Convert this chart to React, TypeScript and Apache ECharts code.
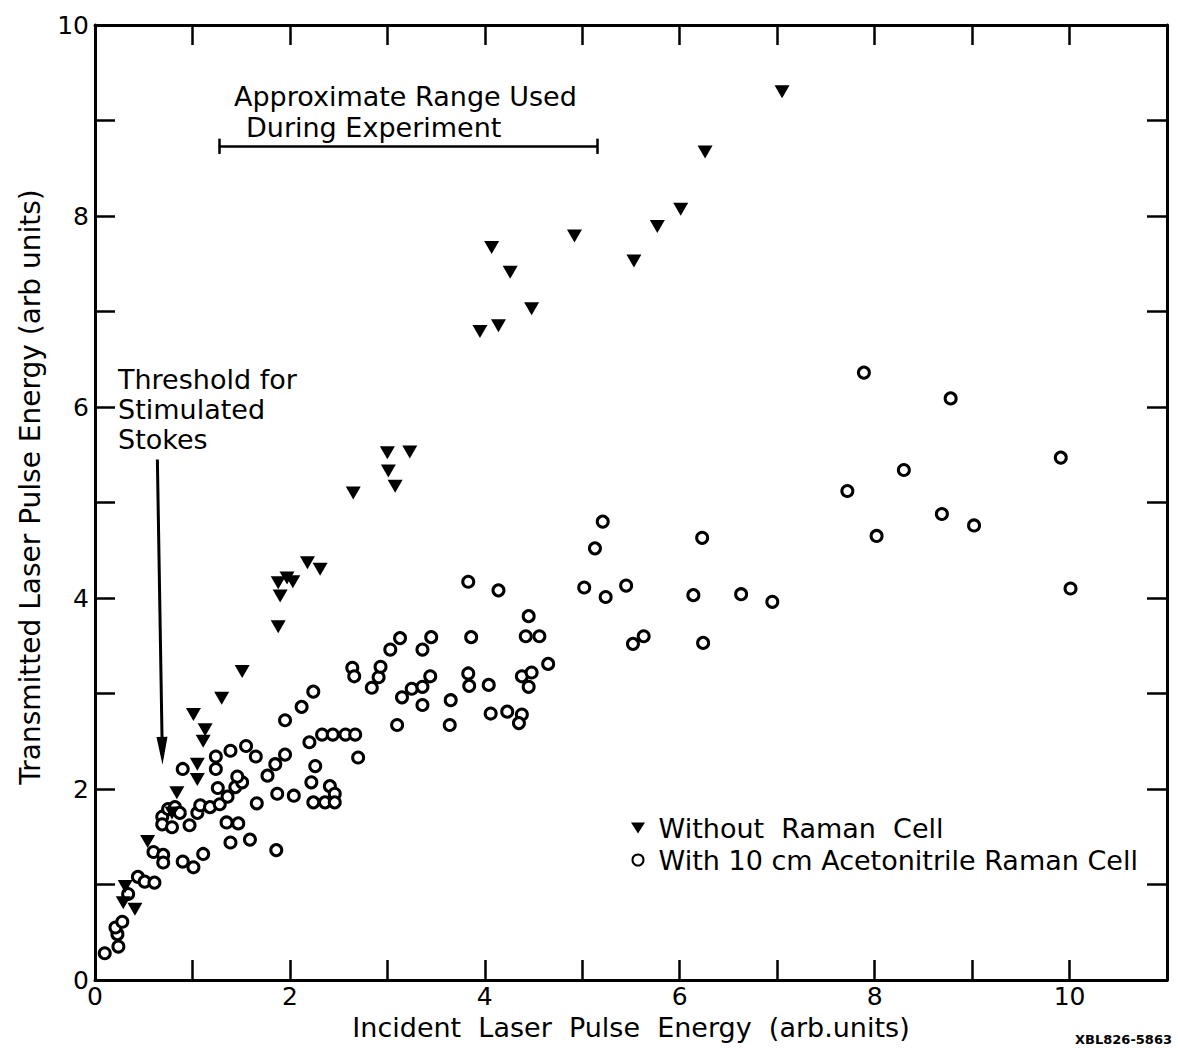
import React, { useEffect, useRef } from "react";
import * as echarts from "echarts";

// Transmitted vs incident laser pulse energy (arb. units), [incident, transmitted]
const withoutCell: [number, number][] = [
  [0.29, 0.81], [0.31, 0.98], [0.41, 0.74], [0.54, 1.45], [0.79, 1.75], [0.84, 1.96],
  [1.05, 2.1], [1.05, 2.26], [1.11, 2.5], [1.13, 2.62], [1.01, 2.78], [1.3, 2.95],
  [1.51, 3.23], [1.88, 3.7], [1.9, 4.02], [1.88, 4.16], [1.97, 4.21], [2.03, 4.17],
  [2.18, 4.37], [2.31, 4.3], [2.65, 5.1], [3.0, 5.52], [3.23, 5.53], [3.01, 5.33],
  [3.08, 5.17], [3.95, 6.79], [4.14, 6.85], [4.48, 7.03], [4.26, 7.41], [4.07, 7.67],
  [4.92, 7.79], [5.53, 7.53], [5.77, 7.89], [6.01, 8.07], [6.26, 8.67], [7.05, 9.3],
];

const withCell: [number, number][] = [
  [0.1, 0.28], [0.24, 0.35], [0.23, 0.48], [0.21, 0.55], [0.28, 0.61], [0.34, 0.9],
  [0.44, 1.08], [0.51, 1.03], [0.61, 1.02], [0.6, 1.34], [0.7, 1.31], [0.7, 1.23],
  [0.9, 1.24], [1.01, 1.18], [1.11, 1.32], [0.69, 1.71], [0.75, 1.79], [0.82, 1.81],
  [0.87, 1.75], [0.69, 1.63], [0.79, 1.6], [0.97, 1.62], [0.9, 2.21], [1.05, 1.75],
  [1.08, 1.83], [1.18, 1.81], [1.28, 1.84], [1.36, 1.92], [1.26, 2.01], [1.44, 2.02],
  [1.51, 2.07], [1.46, 2.13], [1.24, 2.21], [1.24, 2.34], [1.39, 2.4], [1.55, 2.45],
  [1.65, 2.34], [1.35, 1.65], [1.47, 1.64], [1.39, 1.44], [1.59, 1.47], [1.86, 1.36],
  [1.66, 1.85], [1.77, 2.14], [1.85, 2.26], [1.95, 2.36], [1.87, 1.95], [2.04, 1.93],
  [1.95, 2.72], [2.12, 2.86], [2.24, 3.02], [2.2, 2.49], [2.33, 2.57], [2.44, 2.57],
  [2.57, 2.57], [2.67, 2.57], [2.7, 2.33], [2.26, 2.24], [2.22, 2.07], [2.41, 2.03],
  [2.46, 1.95], [2.24, 1.86], [2.36, 1.86], [2.46, 1.86],
  [2.64, 3.27], [2.66, 3.18], [2.84, 3.06], [2.91, 3.17], [2.93, 3.28], [3.03, 3.46],
  [3.13, 3.58], [3.1, 2.67], [3.15, 2.96], [3.25, 3.05], [3.36, 3.07], [3.44, 3.18],
  [3.36, 2.88], [3.36, 3.46], [3.45, 3.59], [3.65, 2.93], [3.64, 2.67], [3.83, 3.21],
  [3.84, 3.08], [3.86, 3.59], [3.83, 4.17], [4.04, 3.09], [4.06, 2.79], [4.14, 4.08],
  [4.23, 2.81], [4.38, 2.78], [4.35, 2.69], [4.38, 3.18], [4.48, 3.22], [4.45, 3.07],
  [4.42, 3.6], [4.56, 3.6], [4.45, 3.81], [4.65, 3.31],
  [5.02, 4.11], [5.13, 4.52], [5.21, 4.8], [5.24, 4.01], [5.45, 4.13], [5.52, 3.52],
  [5.63, 3.6], [6.14, 4.03], [6.23, 4.63], [6.24, 3.53], [6.63, 4.04], [6.95, 3.96],
  [7.72, 5.12], [7.89, 6.36], [8.02, 4.65], [8.3, 5.34], [8.69, 4.88], [8.78, 6.09],
  [9.02, 4.76], [9.91, 5.47], [10.01, 4.1],
];

const SERIES_NAMES = ["Without Raman Cell", "With 10 cm Acetonitrile Raman Cell"];
const LEGEND_LABELS = ["Without  Raman  Cell", "With 10 cm Acetonitrile Raman Cell"];

const X_RANGE = [0, 11];
const Y_RANGE = [0, 10];
const X_TICK_LABELS = [0, 2, 4, 6, 8, 10];
const Y_TICK_LABELS = [0, 2, 4, 6, 8, 10];

// Bracket marking the energy range used in the experiment
const RANGE_USED = { from: 1.27, to: 5.15, level: 8.73, cap: 0.08 };
// Arrow pointing at the stimulated Stokes threshold
const THRESHOLD_ARROW = { from: [0.64, 5.45], to: [0.69, 2.4] };

const FONT = "DejaVu Sans";
const DOWN_TRIANGLE = "path://M0,0L16,0L8,14Z";

function App() {
  const ref = useRef<HTMLDivElement>(null);

  useEffect(() => {
    if (!ref.current) return;
    const chart = echarts.init(ref.current, undefined, { renderer: "svg" });

    const axisLine = { show: true, onZero: false, lineStyle: { color: "#000", width: 3 } };
    const axisTick = { show: true, inside: true, length: 20, lineStyle: { color: "#000", width: 2.5 } };
    const tickLabel = (list: number[]) => ({
      show: true,
      color: "#000",
      fontSize: 25,
      lineHeight: 22,
      fontFamily: FONT,
      formatter: (v: number) => (list.includes(v) ? String(v) : ""),
    });

    const text = (t: string, x: number, y: number, size = 27, extra: any = {}) => ({
      type: "text",
      x,
      y,
      silent: true,
      ...extra,
      style: {
        text: t,
        fill: "#000",
        fontSize: size,
        fontFamily: FONT,
        align: "left",
        verticalAlign: "middle",
        ...(extra.style || {}),
      },
    });

    chart.setOption({
      animation: false,
      backgroundColor: "#fff",
      grid: { left: 95, right: 11, top: 25, bottom: 68, containLabel: false },
      xAxis: [
        {
          type: "value", min: X_RANGE[0], max: X_RANGE[1], interval: 1, position: "bottom",
          axisLine, axisTick, splitLine: { show: false },
          axisLabel: { ...tickLabel(X_TICK_LABELS), margin: 5 },
        },
        {
          type: "value", min: X_RANGE[0], max: X_RANGE[1], interval: 1, position: "top",
          axisLine, axisTick, splitLine: { show: false }, axisLabel: { show: false },
        },
      ],
      yAxis: [
        {
          type: "value", min: Y_RANGE[0], max: Y_RANGE[1], interval: 1, position: "left",
          axisLine, axisTick, splitLine: { show: false },
          axisLabel: { ...tickLabel(Y_TICK_LABELS), margin: 6 },
        },
        {
          type: "value", min: Y_RANGE[0], max: Y_RANGE[1], interval: 1, position: "right",
          axisLine, axisTick, splitLine: { show: false }, axisLabel: { show: false },
        },
      ],
      legend: {
        orient: "vertical",
        left: 626,
        top: 808,
        itemWidth: 14,
        itemHeight: 11,
        itemGap: 2,
        selectedMode: false,
        textStyle: { color: "#000", fontSize: 27, fontFamily: FONT, lineHeight: 30 },
        formatter: (name: string) => " " + LEGEND_LABELS[SERIES_NAMES.indexOf(name)],
        data: [
          { name: SERIES_NAMES[0], icon: "path://M0,0L14,0L7,11Z", itemStyle: { color: "#000" } },
          { name: SERIES_NAMES[1], icon: "circle", itemStyle: { color: "#fff", borderColor: "#000", borderWidth: 2 } },
        ],
      },
      series: [
        {
          name: SERIES_NAMES[1],
          type: "scatter",
          data: withCell,
          symbol: "circle",
          symbolSize: 11,
          itemStyle: { color: "#fff", borderColor: "#000", borderWidth: 3, opacity: 1 },
          z: 2,
          markLine: {
            silent: true,
            symbol: ["none", "none"],
            label: { show: false },
            lineStyle: { color: "#000", width: 2.5, type: "solid" },
            data: [
              [{ coord: [RANGE_USED.from, RANGE_USED.level] }, { coord: [RANGE_USED.to, RANGE_USED.level] }],
              [{ coord: [RANGE_USED.from, RANGE_USED.level - RANGE_USED.cap] }, { coord: [RANGE_USED.from, RANGE_USED.level + RANGE_USED.cap] }],
              [{ coord: [RANGE_USED.to, RANGE_USED.level - RANGE_USED.cap] }, { coord: [RANGE_USED.to, RANGE_USED.level + RANGE_USED.cap] }],
            ],
          },
        },
        {
          name: SERIES_NAMES[0],
          type: "scatter",
          data: withoutCell,
          symbol: DOWN_TRIANGLE,
          symbolSize: [15, 13],
          itemStyle: { color: "#000", opacity: 1 },
          z: 3,
          markLine: {
            silent: true,
            symbol: ["none", "path://M5,0L10,30L0,30Z"],
            symbolSize: [11, 28],
            label: { show: false },
            lineStyle: { color: "#000", width: 3, type: "solid" },
            itemStyle: { color: "#000" },
            data: [[{ coord: THRESHOLD_ARROW.from }, { coord: THRESHOLD_ARROW.to }]],
          },
        },
      ],
      graphic: [
        text("Approximate Range Used", 234, 96),
        text("During Experiment", 246, 127),
        text("Threshold for", 118, 379),
        text("Stimulated", 118, 409),
        text("Stokes", 118, 439),
        text("Incident  Laser  Pulse  Energy  (arb.units)", 631, 1027, 27, {
          style: { align: "center", lineHeight: 24 },
        }),
        text("Transmitted Laser Pulse Energy (arb units)", 30, 487, 28, {
          rotation: Math.PI / 2,
          style: { align: "center" },
        }),
        text("XBL826-5863", 1172, 1039, 13, { style: { align: "right", fontWeight: "bold" } }),
      ],
    });

    return () => chart.dispose();
  }, []);

  return (
    <div
      ref={ref}
      style={{ position: "absolute", left: 0, top: 0, width: 1178, height: 1048, background: "#fff" }}
    />
  );
}

export default App;
